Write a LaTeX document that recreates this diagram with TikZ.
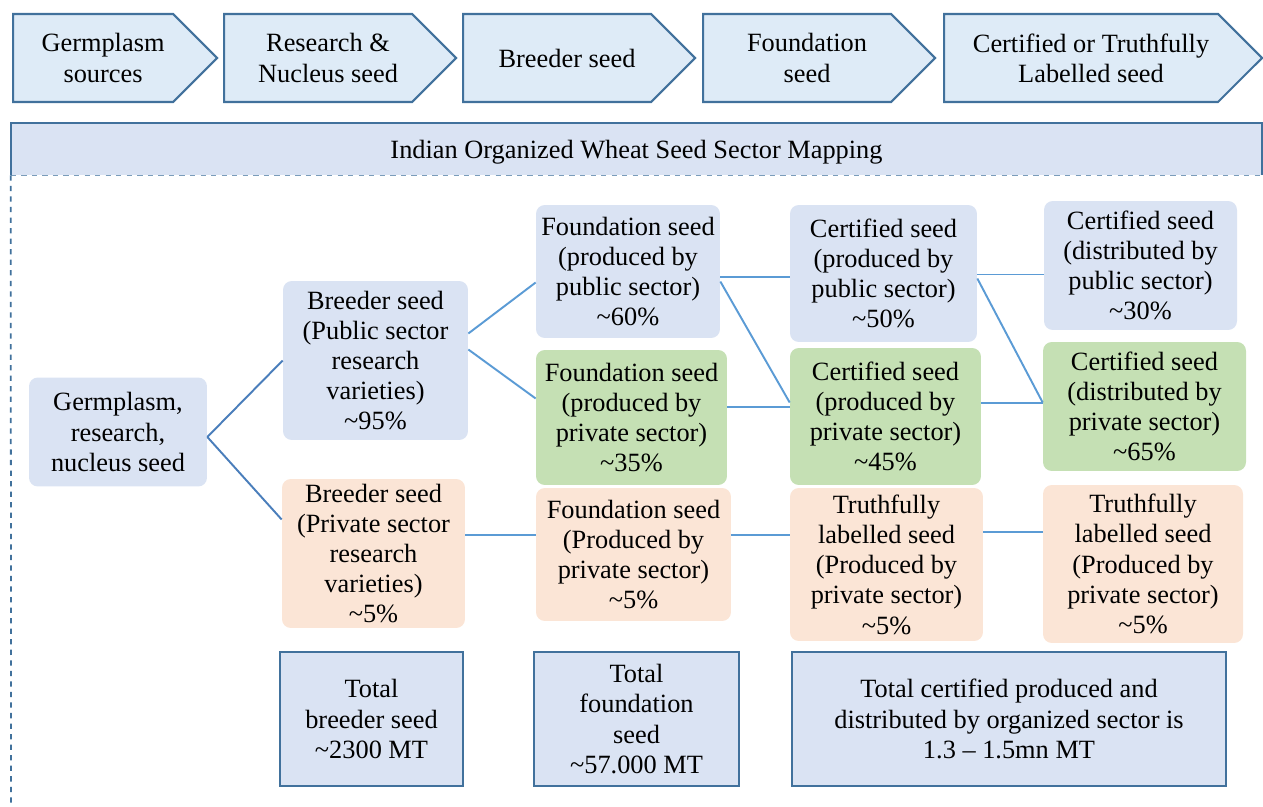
\documentclass[tikz,border=0pt]{standalone}
\usepackage{fontspec}
\setmainfont{Liberation Serif}
\usetikzlibrary{shapes.symbols}

\definecolor{boxline}{HTML}{41719C}
\definecolor{stagefill}{HTML}{DEEBF7}
\definecolor{pubfill}{HTML}{DAE3F3}
\definecolor{privfill}{HTML}{C5E0B4}
\definecolor{tlfill}{HTML}{FBE5D6}
\definecolor{linkcol}{HTML}{5B9BD5}
\definecolor{linkdark}{HTML}{4A7EBB}

\tikzset{
  seedbox/.style={rounded corners=5pt, align=center, inner sep=0pt},
  stage/.style={shape=signal, signal to=east, draw=boxline, line width=1.2pt,
    fill=stagefill, minimum height=1.76cm, anchor=west, inner sep=0pt,
    label={[xshift=0.2cm, align=center]center:#1}},
  totalbox/.style={draw=boxline, line width=1.4pt, fill=pubfill, align=center,
    minimum height=2.68cm},
  link/.style={draw=linkcol, line width=1.1pt},
}

\begin{document}
\begin{tikzpicture}[x=0.02cm,y=-0.02cm,
    every node/.style={font=\fontsize{15}{17.2}\selectfont}]
    \useasboundingbox (0,0) rectangle (1263,807);

    % stages along the top
    \node[stage={Germplasm\\sources}, minimum width=4.08cm] (germ) at (12,58) {};
    \node[stage={Research \&\\Nucleus seed}, minimum width=4.64cm] (nucl) at (223,58) {};
    \node[stage={Breeder seed}, minimum width=4.64cm] (breed) at (462,58) {};
    \node[stage={Foundation\\seed}, minimum width=4.64cm] (found) at (702,58) {};
    \node[stage={Certified or Truthfully\\Labelled seed}, minimum width=6.36cm] (cert) at (943,58) {};

    % header bar and frame
    \node[fill=pubfill, minimum width=25.02cm, minimum height=1.04cm,
      label={[yshift=-0.07cm]center:Indian Organized Wheat Seed Sector Mapping}] (hdr) at (636.5,149) {};
    \draw[boxline, line width=1.2pt] (hdr.south west) -- (hdr.north west) -- (hdr.north east) -- (hdr.south east);
    \draw[boxline!70, dashed, line width=0.8pt] (hdr.south west) -- (hdr.south east);
    \coordinate (frameend) at (11,807);
    \draw[boxline, dashed, line width=1pt] (hdr.south west) -- (frameend);

    % seed boxes
    \node[seedbox, fill=pubfill, minimum width=3.56cm, minimum height=2.18cm] (g) at (118,432)
      {Germplasm,\\research,\\nucleus seed};
    \node[seedbox, fill=pubfill, minimum width=3.70cm, minimum height=3.18cm] (bpub) at (375.5,360.5)
      {Breeder seed\\(Public sector\\research\\varieties)\\\textasciitilde95\%};
    \node[seedbox, fill=tlfill, minimum width=3.66cm, minimum height=2.98cm] (bpriv) at (373.5,553.5)
      {Breeder seed\\(Private sector\\research\\varieties)\\\textasciitilde5\%};

    \node[seedbox, fill=pubfill, minimum width=3.68cm, minimum height=2.66cm] (fpub) at (628,271.5)
      {Foundation seed\\(produced by\\public sector)\\\textasciitilde60\%};
    \node[seedbox, fill=privfill, minimum width=3.82cm, minimum height=2.70cm] (fpriv) at (631.5,417.5)
      {Foundation seed\\(produced by\\private sector)\\\textasciitilde35\%};
    \node[seedbox, fill=tlfill, minimum width=3.90cm, minimum height=2.66cm] (fprivb) at (633.5,554.5)
      {Foundation seed\\(Produced by\\private sector)\\\textasciitilde5\%};

    \node[seedbox, fill=pubfill, minimum width=3.74cm, minimum height=2.74cm] (cpub) at (883.5,273.5)
      {Certified seed\\(produced by\\public sector)\\\textasciitilde50\%};
    \node[seedbox, fill=privfill, minimum width=3.82cm, minimum height=2.74cm] (cpriv) at (885.5,416.5)
      {Certified seed\\(produced by\\private sector)\\\textasciitilde45\%};
    \node[seedbox, fill=tlfill, minimum width=3.86cm, minimum height=3.06cm] (tla) at (886.5,564.5)
      {Truthfully\\labelled seed\\(Produced by\\private sector)\\\textasciitilde5\%};

    \node[seedbox, fill=pubfill, minimum width=3.86cm, minimum height=2.58cm] (dpub) at (1140.5,265.5)
      {Certified seed\\(distributed by\\public sector)\\\textasciitilde30\%};
    \node[seedbox, fill=privfill, minimum width=4.06cm, minimum height=2.58cm] (dpriv) at (1144.5,406.5)
      {Certified seed\\(distributed by\\private sector)\\\textasciitilde65\%};
    \node[seedbox, fill=tlfill, minimum width=4.00cm, minimum height=3.16cm] (tlb) at (1143,564)
      {Truthfully\\labelled seed\\(Produced by\\private sector)\\\textasciitilde5\%};

    % totals
    \node[totalbox, minimum width=3.66cm] (totb) at (371.5,719) {Total\\breeder seed\\\textasciitilde2300 MT};
    \node[totalbox, minimum width=4.10cm] (totf) at (636.5,719) {Total\\foundation\\seed\\\textasciitilde57.000 MT};
    \node[totalbox, minimum width=8.68cm] (totc) at (1009,719)
      {Total certified produced and\\distributed by organized sector is\\1.3 -- 1.5mn MT};

    % connectors
    \draw[link, draw=linkdark] ([yshift=-0.1cm]g.east) -- (bpub.west);
    \draw[link, draw=linkdark] ([yshift=-0.1cm]g.east) -- ([yshift=0.68cm]bpriv.west);
    \draw[link] ([yshift=0.54cm]bpub.east) -- ([yshift=-0.22cm]fpub.west);
    \draw[link] ([yshift=0.22cm]bpub.east) -- ([yshift=0.38cm]fpriv.west);
    \draw[link] ([yshift=0.37cm]bpriv.east) -- ([yshift=0.37cm]bpriv.east -| fprivb.west);

    \draw[link] ([yshift=-0.11cm]fpub.east) -- ([yshift=-0.11cm]fpub.east -| cpub.west);
    \draw[link] ([yshift=-0.2cm]fpub.east) -- ([yshift=0.28cm]cpriv.west);
    \draw[link] ([yshift=0.21cm]fpriv.east) -- ([yshift=0.21cm]fpriv.east -| cpriv.west);
    \draw[link] ([yshift=0.39cm]fprivb.east) -- ([yshift=0.39cm]fprivb.east -| tla.west);

    \draw[link] ([yshift=-0.02cm]cpub.east) -- ([yshift=-0.02cm]cpub.east -| dpub.west);
    \draw[link] ([yshift=-0.1cm]cpub.east) -- ([yshift=0.08cm]dpriv.west);
    \draw[link] ([yshift=0.27cm]cpriv.east) -- ([yshift=0.27cm]cpriv.east -| dpriv.west);
    \draw[link] ([yshift=0.65cm]tla.east) -- ([yshift=0.65cm]tla.east -| tlb.west);
\end{tikzpicture}
\end{document}
